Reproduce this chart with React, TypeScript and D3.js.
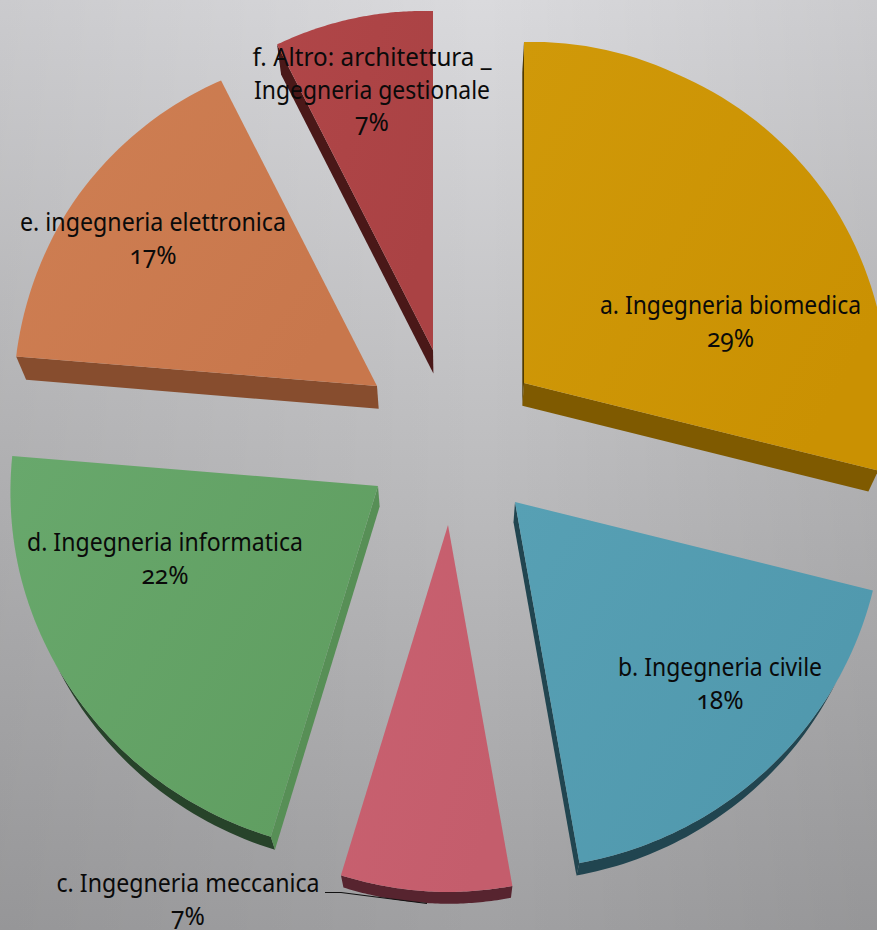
import React from "react";
import * as d3 from "d3";

const W = 877;
const H = 930;

const categories = ["a", "b", "c", "d", "e", "f"];
const shares = [28.86, 18.33, 7.53, 21.58, 16.19, 7.51];
const percentLabels = ["29%", "18%", "7%", "22%", "17%", "7%"];
const labelLines = [
  ["a. Ingegneria biomedica"],
  ["b. Ingegneria civile"],
  ["c. Ingegneria meccanica"],
  ["d. Ingegneria informatica"],
  ["e. ingegneria elettronica"],
  ["f. Altro: architettura _", "Ingegneria gestionale"],
];

// layout of the exploded slices and the labels
const pieCentre = [448, 430];
const explode = [[76, -47], [67, 72], [0, 95], [-70, 56], [-71, -44], [-15, -80]];
const sideBoost = [1, 5, 0, 5, 0, 0];
const topBoost = [2, 0, 0, 0, 0, 0];
const labelAnchors = [[730.5, 314], [720, 676], [188, 892], [165, 551], [153, 231], [372, 66]];
const labelWidths = [[261], [204], [263], [276], [266], [239, 236]];
const topLight = ["#d09909", "#57a0b4", "#c96170", "#68a86c", "#cf7f53", "#b04648"];
const topDark = ["#ca9102", "#5098ad", "#c45d6c", "#609e61", "#c8774c", "#aa4244"];
// only the side faces the viewer can actually see get a colour
const sideStart = ["#4f3a00", null, null, "#578f56", "#874d2e", "#4a1818"];
const sideEnd = ["#7f5a00", "#214550", null, null, null, null];
const sideArc = [null, "#214550", "#57242f", "#27432a", null, null];

// slight perspective of the rim: radius as a function of the angle off 12 o'clock
const radiusByAngle = d3.scaleLinear().domain([0, 27, 59, 85, 104, 180]).range([339, 343, 355, 362, 364, 367]);
const rimRadius = (a: number, i: number) => {
  const deg = (a * 180) / Math.PI;
  const base = radiusByAngle(deg > 180 ? 360 - deg : deg);
  return base + sideBoost[i] * Math.sin(a) ** 2 + topBoost[i] * Math.max(0, Math.cos(a)) ** 2;
};
// extrusion of a top-face point towards the back
const extrude = ([x, y]: number[]) => [x + (450 - x) * 0.023, y + 31 - 0.0215 * y];

const pie = d3.pie<number>().sort(null).value((d) => d);
const line = d3.line();
const arcs = pie(shares);

function sliceGeometry(i: number) {
  const apex = [pieCentre[0] + explode[i][0], pieCentre[1] + explode[i][1]];
  const a0 = arcs[i].startAngle;
  const a1 = arcs[i].endAngle;
  const angles = d3.range(0, 61).map((k) => a0 + ((a1 - a0) * k) / 60);
  const toPoint = (a: number) => {
    const p = d3.pointRadial(a, rimRadius(a, i));
    return [apex[0] + p[0], apex[1] + p[1]];
  };
  const rim = angles.map(toPoint);
  const lowerRim = angles.filter((a) => Math.cos(a) < -0.45).map(toPoint);
  return { apex, rim, lowerRim };
}

const band = (pts: number[][]) => line([...pts, ...pts.map(extrude).reverse()] as any) + "Z";

export default function App() {
  const geos = categories.map((_, i) => sliceGeometry(i));
  const font = {
    fontFamily: "'Noto Sans', 'Open Sans'",
    fontSize: 24.5,
    fill: "#0a0a0a",
    style: { fontVariantNumeric: "oldstyle-nums", fontFeatureSettings: "'onum'" },
  } as any;
  return (
    <svg width={W} height={H} viewBox={`0 0 ${W} ${H}`} style={{ position: "absolute", left: 0, top: 0, display: "block" }}>
      <defs>
        <linearGradient id="bg" x1="0" y1="0" x2="0" y2="1">
          <stop offset="0" stopColor="#dadadd" />
          <stop offset="0.46" stopColor="#bfbfc1" />
          <stop offset="1" stopColor="#a1a1a3" />
        </linearGradient>
        <linearGradient id="bgSides" x1="0" y1="0" x2="1" y2="0">
          <stop offset="0" stopColor="#000" stopOpacity={0.07} />
          <stop offset="0.55" stopColor="#000" stopOpacity={0} />
          <stop offset="1" stopColor="#000" stopOpacity={0.07} />
        </linearGradient>
        {categories.map((c, i) => (
          <linearGradient key={c} id={`top-${c}`} x1="0" y1="0" x2="1" y2="0.6">
            <stop offset="0" stopColor={topLight[i]} />
            <stop offset="1" stopColor={topDark[i]} />
          </linearGradient>
        ))}
      </defs>
      <rect width={W} height={H} fill="url(#bg)" />
      <rect width={W} height={H} fill="url(#bgSides)" />
      {categories.map((c, i) => {
        const { apex, rim, lowerRim } = geos[i];
        return (
          <g key={c}>
            {sideArc[i] && lowerRim.length > 1 && <path d={band(lowerRim)} fill={sideArc[i] as string} />}
            {sideStart[i] && <path d={band([apex, rim[0]])} fill={sideStart[i] as string} />}
            {sideEnd[i] && <path d={band([apex, rim[rim.length - 1]])} fill={sideEnd[i] as string} />}
            <path d={line([apex, ...rim] as any) + "Z"} fill={`url(#top-${c})`} />
          </g>
        );
      })}
      <path d="M325,892.5H341L427,903.5" fill="none" stroke="#111" strokeWidth={1.2} />
      {categories.map((c, i) => {
        const [x, y] = labelAnchors[i];
        return (
          <text key={c} textAnchor="middle" {...font}>
            {labelLines[i].map((t, k) => (
              <tspan key={k} x={x} y={y + k * 32.5} textLength={labelWidths[i][k]} lengthAdjust="spacingAndGlyphs">{t}</tspan>
            ))}
            <tspan x={x} y={y + labelLines[i].length * 32.5}>{percentLabels[i]}</tspan>
          </text>
        );
      })}
    </svg>
  );
}
